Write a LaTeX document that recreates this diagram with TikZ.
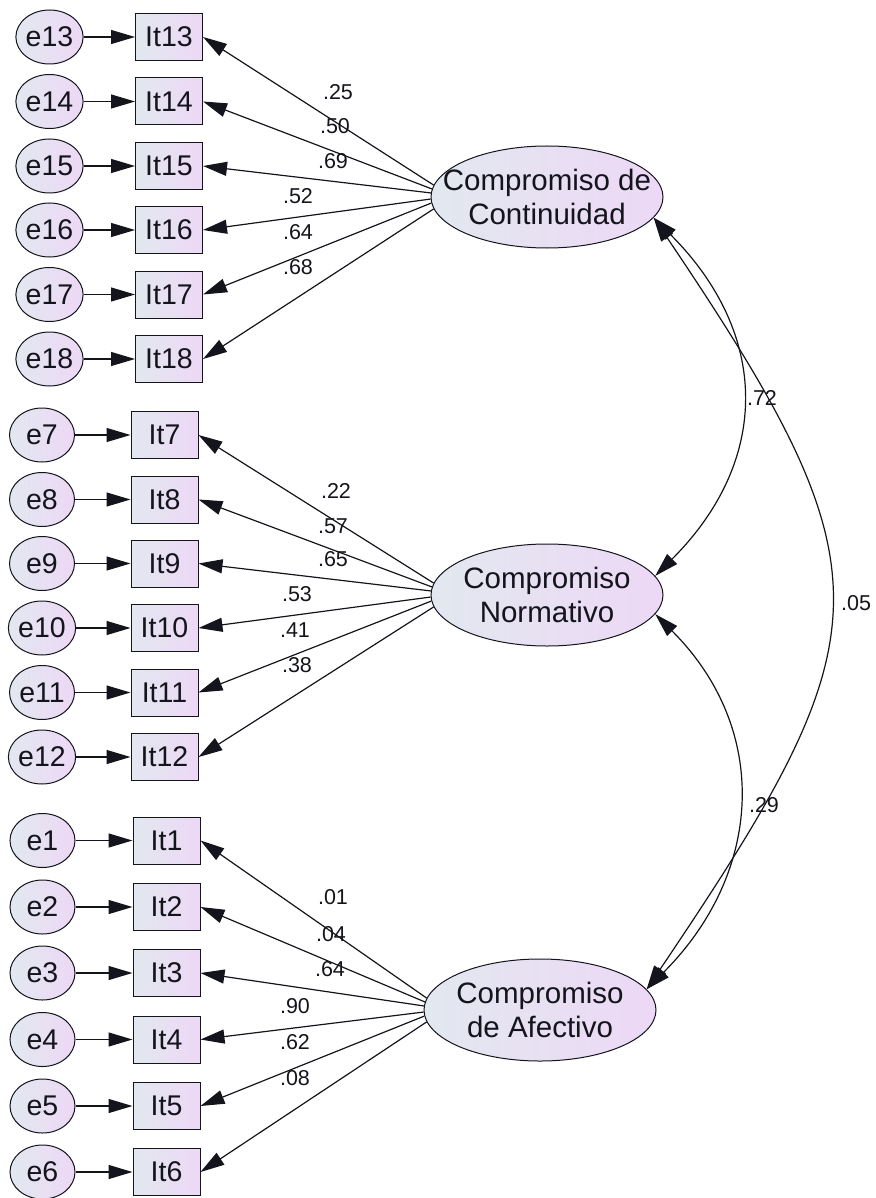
\documentclass[tikz,border=0pt]{standalone}
\usepackage{fontspec}
\setmainfont{Liberation Sans}
\usetikzlibrary{shapes.geometric,arrows.meta}
\definecolor{fillA}{RGB}{226,232,240}
\definecolor{fillB}{RGB}{237,216,245}
\definecolor{ink}{RGB}{20,20,28}
\begin{document}
\begin{tikzpicture}[x=1pt,y=-1pt,
  errnode/.style={ellipse,draw=ink,line width=1pt,minimum width=65pt,minimum height=54pt,inner sep=0pt,left color=fillA,right color=fillB,text=ink,font=\fontsize{28.5}{34}\selectfont},
  itembox/.style={rectangle,draw=ink,line width=1pt,minimum width=67pt,minimum height=47pt,inner sep=0pt,left color=fillA,right color=fillB,text=ink,font=\fontsize{28.5}{34}\selectfont},
  latent/.style={ellipse,draw=ink,line width=1pt,minimum width=232pt,minimum height=102pt,inner sep=0pt,left color=fillA,right color=fillB},
  lattext/.style={inner sep=0pt,align=center,text=ink,font=\fontsize{29.5}{34}\selectfont},
  lbl/.style={inner sep=0pt,text=ink,font=\fontsize{21.5}{24}\selectfont},
  arr/.style={draw=ink,line width=1.2pt,-{Triangle[length=24pt,width=14pt]}},
  dbl/.style={draw=ink,line width=1.2pt,{Triangle[length=24pt,width=14pt]}-{Triangle[length=24pt,width=14pt]}}
]
\useasboundingbox (0,0) rectangle (875,1198);

% latent variables
\node[latent] (C) at (547,197) {};
\node[lattext] (Ct) at (C) {Compromiso de\\Continuidad};
\node[latent] (N) at (547,595) {};
\node[lattext] (Nt) at (N) {Compromiso\\Normativo};
\node[latent] (A) at (540,1010) {};
\node[lattext] (At) at (A) {Compromiso\\de Afectivo};

% top group
\foreach \n/\y/\a in {13/37/174,14/101.5/176.2,15/166/178.7,16/230/181.3,17/294.5/183.8,18/359/186.3}{
  \node[errnode] (e\n) at (49.5,\y) {e\n};
  \node[itembox] (it\n) at (169,\y) {It\n};
  \draw[arr] (e\n) -- (it\n);
  \draw[arr] (C.\a) -- (it\n.east);
}
% middle group
\foreach \n/\y/\a in {7/435/174,8/499.5/176.2,9/563.5/178.7,10/628/181.3,11/692.5/183.8,12/757/186.3}{
  \node[errnode] (e\n) at (42,\y) {e\n};
  \node[itembox] (it\n) at (164.5,\y) {It\n};
  \draw[arr] (e\n) -- (it\n);
  \draw[arr] (N.\a) -- (it\n.east);
}
% bottom group
\foreach \n/\y/\a in {1/840.5/174,2/907/176.2,3/973/178.7,4/1039.5/181.3,5/1106/183.8,6/1172/186.3}{
  \node[errnode] (e\n) at (42.5,\y) {e\n};
  \node[itembox] (it\n) at (166.5,\y) {It\n};
  \draw[arr] (e\n) -- (it\n);
  \draw[arr] (A.\a) -- (it\n.east);
}

% loading labels
\node[lbl] (l13) at (338,92) {.25};
\node[lbl] (l14) at (335,126) {.50};
\node[lbl] (l15) at (333,161) {.69};
\node[lbl] (l16) at (298,196) {.52};
\node[lbl] (l17) at (298,232) {.64};
\node[lbl] (l18) at (298,267) {.68};

\node[lbl] (l7) at (336,491) {.22};
\node[lbl] (l8) at (333,526) {.57};
\node[lbl] (l9) at (333,559) {.65};
\node[lbl] (l10) at (297,594) {.53};
\node[lbl] (l11) at (295,630) {.41};
\node[lbl] (l12) at (297,665) {.38};

\node[lbl] (l1) at (333,897) {.01};
\node[lbl] (l2) at (331,934) {.04};
\node[lbl] (l3) at (330,969) {.64};
\node[lbl] (l4) at (295,1006) {.90};
\node[lbl] (l5) at (295,1042) {.62};
\node[lbl] (l6) at (295,1078) {.08};

% correlations
\draw[dbl] (C.-11) .. controls +(116,116) and +(116,-116) .. (N.10);
\draw[dbl] (N.-10) .. controls +(116,116) and +(116,-116) .. (A.11);
\draw[dbl] (C.-11) .. controls +(240,356) and +(240,-356) .. (A.11);
\node[lbl] (r1) at (762,398) {.72};
\node[lbl] (r2) at (764,805) {.29};
\node[lbl] (r3) at (856,603) {.05};
\end{tikzpicture}
\end{document}
